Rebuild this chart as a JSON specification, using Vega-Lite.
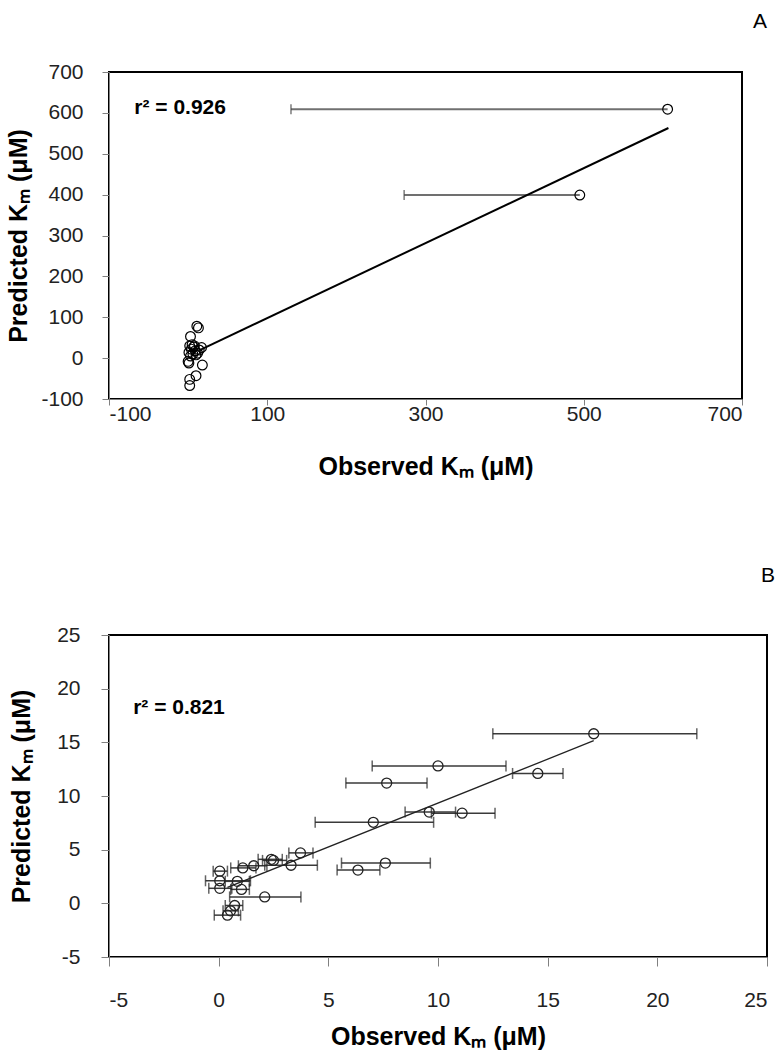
{
  "$schema": "https://vega.github.io/schema/vega-lite/v6.json",
  "background": "white",
  "padding": {"left": 5, "top": 10, "right": 0, "bottom": 0},
  "spacing": 84,
  "config": {
    "view": {"stroke": "#000", "strokeWidth": 2},
    "axis": {
      "domainColor": "#808080", "tickColor": "#808080", "grid": false,
      "labelFont": "Liberation Sans", "labelFontSize": 21, "labelColor": "#222",
      "labelExpr": "replace(datum.label, '−', '-')",
      "titleFont": "Liberation Sans", "titleFontSize": 25, "titleFontWeight": "bold", "titleColor": "#000"
    }
  },
  "datasets": {
    "a": [
      {"obs": 606, "pred": 609, "lo": 130},
      {"obs": 495, "pred": 399, "lo": 273},
      {"obs": 11, "pred": 78}, {"obs": 13, "pred": 74}, {"obs": 3, "pred": 53},
      {"obs": 2, "pred": 30}, {"obs": 5, "pred": 33}, {"obs": 7, "pred": 27},
      {"obs": 4, "pred": 22}, {"obs": 9, "pred": 18}, {"obs": 1, "pred": 14},
      {"obs": 6, "pred": 10}, {"obs": 12, "pred": 12}, {"obs": 17, "pred": 26},
      {"obs": 8, "pred": 30}, {"obs": 3, "pred": 5}, {"obs": 0, "pred": -8},
      {"obs": 1, "pred": -12}, {"obs": 18, "pred": -17}, {"obs": 10, "pred": -43},
      {"obs": 2, "pred": -52}, {"obs": 2, "pred": -67}, {"obs": 14, "pred": 20},
      {"obs": 10, "pred": 8}
    ],
    "aFit": [{"obs": 14, "fit": 19}, {"obs": 607, "fit": 563}],
    "b": [
      {"obs": 17.1, "pred": 15.8, "lo": 12.5, "hi": 21.8},
      {"obs": 10.0, "pred": 12.8, "lo": 7.0, "hi": 13.1},
      {"obs": 14.55, "pred": 12.1, "lo": 13.4, "hi": 15.7},
      {"obs": 7.66, "pred": 11.2, "lo": 5.8, "hi": 9.5},
      {"obs": 9.6, "pred": 8.5, "lo": 8.5, "hi": 10.8},
      {"obs": 11.1, "pred": 8.4, "lo": 9.7, "hi": 12.6},
      {"obs": 7.05, "pred": 7.55, "lo": 4.4, "hi": 9.8},
      {"obs": 3.73, "pred": 4.7, "lo": 3.2, "hi": 4.3},
      {"obs": 2.4, "pred": 4.1, "lo": 1.8, "hi": 2.9},
      {"obs": 2.5, "pred": 4.0, "lo": 2.0, "hi": 3.1},
      {"obs": 3.3, "pred": 3.55, "lo": 2.1, "hi": 4.5},
      {"obs": 1.6, "pred": 3.5, "lo": 0.9, "hi": 2.2},
      {"obs": 1.1, "pred": 3.3, "lo": 0.55, "hi": 1.7},
      {"obs": 0.05, "pred": 3.0, "lo": -0.25, "hi": 0.4},
      {"obs": 0.05, "pred": 2.1, "lo": -0.6, "hi": 1.45},
      {"obs": 0.85, "pred": 2.05, "lo": 0.3, "hi": 1.4},
      {"obs": 0.05, "pred": 1.4, "lo": -0.45, "hi": 0.6},
      {"obs": 1.04, "pred": 1.3, "lo": 0.55, "hi": 1.4},
      {"obs": 2.1, "pred": 0.6, "lo": 0.5, "hi": 3.75},
      {"obs": 0.73, "pred": -0.2, "lo": 0.3, "hi": 1.1},
      {"obs": 0.54, "pred": -0.7, "lo": 0.2, "hi": 0.9},
      {"obs": 0.4, "pred": -1.1, "lo": -0.2, "hi": 1.0},
      {"obs": 7.6, "pred": 3.75, "lo": 5.6, "hi": 9.65},
      {"obs": 6.35, "pred": 3.1, "lo": 5.4, "hi": 7.35}
    ],
    "bFit": [{"obs": 0.4, "fit": 1.48}, {"obs": 17.1, "fit": 15.15}]
  },
  "vconcat": [
    {
      "width": 633, "height": 327,
      "title": {"text": "A", "anchor": "end", "frame": "group", "dx": 25, "offset": 29, "fontSize": 21, "fontWeight": "normal", "font": "Liberation Sans", "color": "#000"},
      "data": {"name": "a"},
      "layer": [
        {
          "transform": [{"filter": "isValid(datum.lo)"}],
          "mark": {"type": "rule", "color": "#707070", "strokeWidth": 2},
          "encoding": {
            "x": {"field": "lo", "type": "quantitative", "title": "Observed Kₘ (μM)",
                  "scale": {"domain": [-100, 700], "nice": false, "zero": false},
                  "axis": {"values": [-100, 100, 300, 500, 700], "tickSize": 6, "labelPadding": -2, "titlePadding": 30}},
            "x2": {"field": "obs"},
            "y": {"field": "pred", "type": "quantitative", "title": "Predicted Kₘ (μM)",
                  "scale": {"domain": [-100, 700], "nice": false, "zero": false},
                  "axis": {"values": [-100, 0, 100, 200, 300, 400, 500, 600, 700], "tickSize": 7, "labelPadding": 19, "titlePadding": 9}}
          }
        },
        {
          "transform": [{"filter": "isValid(datum.lo)"}],
          "mark": {"type": "tick", "orient": "vertical", "size": 10, "thickness": 1.5, "color": "#444"},
          "encoding": {
            "x": {"field": "lo", "type": "quantitative", "title": "Observed Kₘ (μM)"},
            "y": {"field": "pred", "type": "quantitative", "title": "Predicted Kₘ (μM)"}
          }
        },
        {
          "data": {"name": "aFit"},
          "mark": {"type": "line", "color": "#000", "strokeWidth": 2},
          "encoding": {
            "x": {"field": "obs", "type": "quantitative", "title": "Observed Kₘ (μM)"},
            "y": {"field": "fit", "type": "quantitative", "title": "Predicted Kₘ (μM)"}
          }
        },
        {
          "mark": {"type": "point", "shape": "circle", "filled": false, "stroke": "#000", "strokeWidth": 1.2, "size": 95, "opacity": 1},
          "encoding": {
            "x": {"field": "obs", "type": "quantitative", "title": "Observed Kₘ (μM)"},
            "y": {"field": "pred", "type": "quantitative", "title": "Predicted Kₘ (μM)"}
          }
        },
        {
          "data": {"values": [{"x": -68, "y": 612, "t": "r² = 0.926"}]},
          "mark": {"type": "text", "align": "left", "baseline": "middle", "font": "Liberation Sans", "fontSize": 21, "fontWeight": "bold", "color": "#000"},
          "encoding": {
            "x": {"field": "x", "type": "quantitative", "title": "Observed Kₘ (μM)"},
            "y": {"field": "y", "type": "quantitative", "title": "Predicted Kₘ (μM)"},
            "text": {"field": "t"}
          }
        }
      ]
    },
    {
      "width": 658, "height": 322,
      "title": {"text": "B", "anchor": "end", "frame": "group", "dx": 8, "offset": 38, "fontSize": 21, "fontWeight": "normal", "font": "Liberation Sans", "color": "#000"},
      "data": {"name": "b"},
      "layer": [
        {
          "mark": {"type": "rule", "color": "#3a3a3a", "strokeWidth": 1.5},
          "encoding": {
            "x": {"field": "lo", "type": "quantitative", "title": "Observed Kₘ (μM)",
                  "scale": {"domain": [-5, 25], "nice": false, "zero": false},
                  "axis": {"values": [-5, 0, 5, 10, 15, 20, 25], "tickSize": 9, "labelPadding": 23, "titlePadding": 14}},
            "x2": {"field": "hi"},
            "y": {"field": "pred", "type": "quantitative", "title": "Predicted Kₘ (μM)",
                  "scale": {"domain": [-5, 25], "nice": false, "zero": false},
                  "axis": {"values": [-5, 0, 5, 10, 15, 20, 25], "tickSize": 8, "labelPadding": 21, "titlePadding": 22}}
          }
        },
        {
          "transform": [{"fold": ["lo", "hi"], "as": ["k", "end"]}],
          "mark": {"type": "tick", "orient": "vertical", "size": 11, "thickness": 1.5, "color": "#222"},
          "encoding": {
            "x": {"field": "end", "type": "quantitative", "title": "Observed Kₘ (μM)"},
            "y": {"field": "pred", "type": "quantitative", "title": "Predicted Kₘ (μM)"}
          }
        },
        {
          "data": {"name": "bFit"},
          "mark": {"type": "line", "color": "#222", "strokeWidth": 1.3},
          "encoding": {
            "x": {"field": "obs", "type": "quantitative", "title": "Observed Kₘ (μM)"},
            "y": {"field": "fit", "type": "quantitative", "title": "Predicted Kₘ (μM)"}
          }
        },
        {
          "mark": {"type": "point", "shape": "circle", "filled": false, "stroke": "#222", "strokeWidth": 1.3, "size": 100, "opacity": 1},
          "encoding": {
            "x": {"field": "obs", "type": "quantitative", "title": "Observed Kₘ (μM)"},
            "y": {"field": "pred", "type": "quantitative", "title": "Predicted Kₘ (μM)"}
          }
        },
        {
          "data": {"values": [{"x": -3.9, "y": 18.2, "t": "r² = 0.821"}]},
          "mark": {"type": "text", "align": "left", "baseline": "middle", "font": "Liberation Sans", "fontSize": 21, "fontWeight": "bold", "color": "#000"},
          "encoding": {
            "x": {"field": "x", "type": "quantitative", "title": "Observed Kₘ (μM)"},
            "y": {"field": "y", "type": "quantitative", "title": "Predicted Kₘ (μM)"},
            "text": {"field": "t"}
          }
        }
      ]
    }
  ]
}
